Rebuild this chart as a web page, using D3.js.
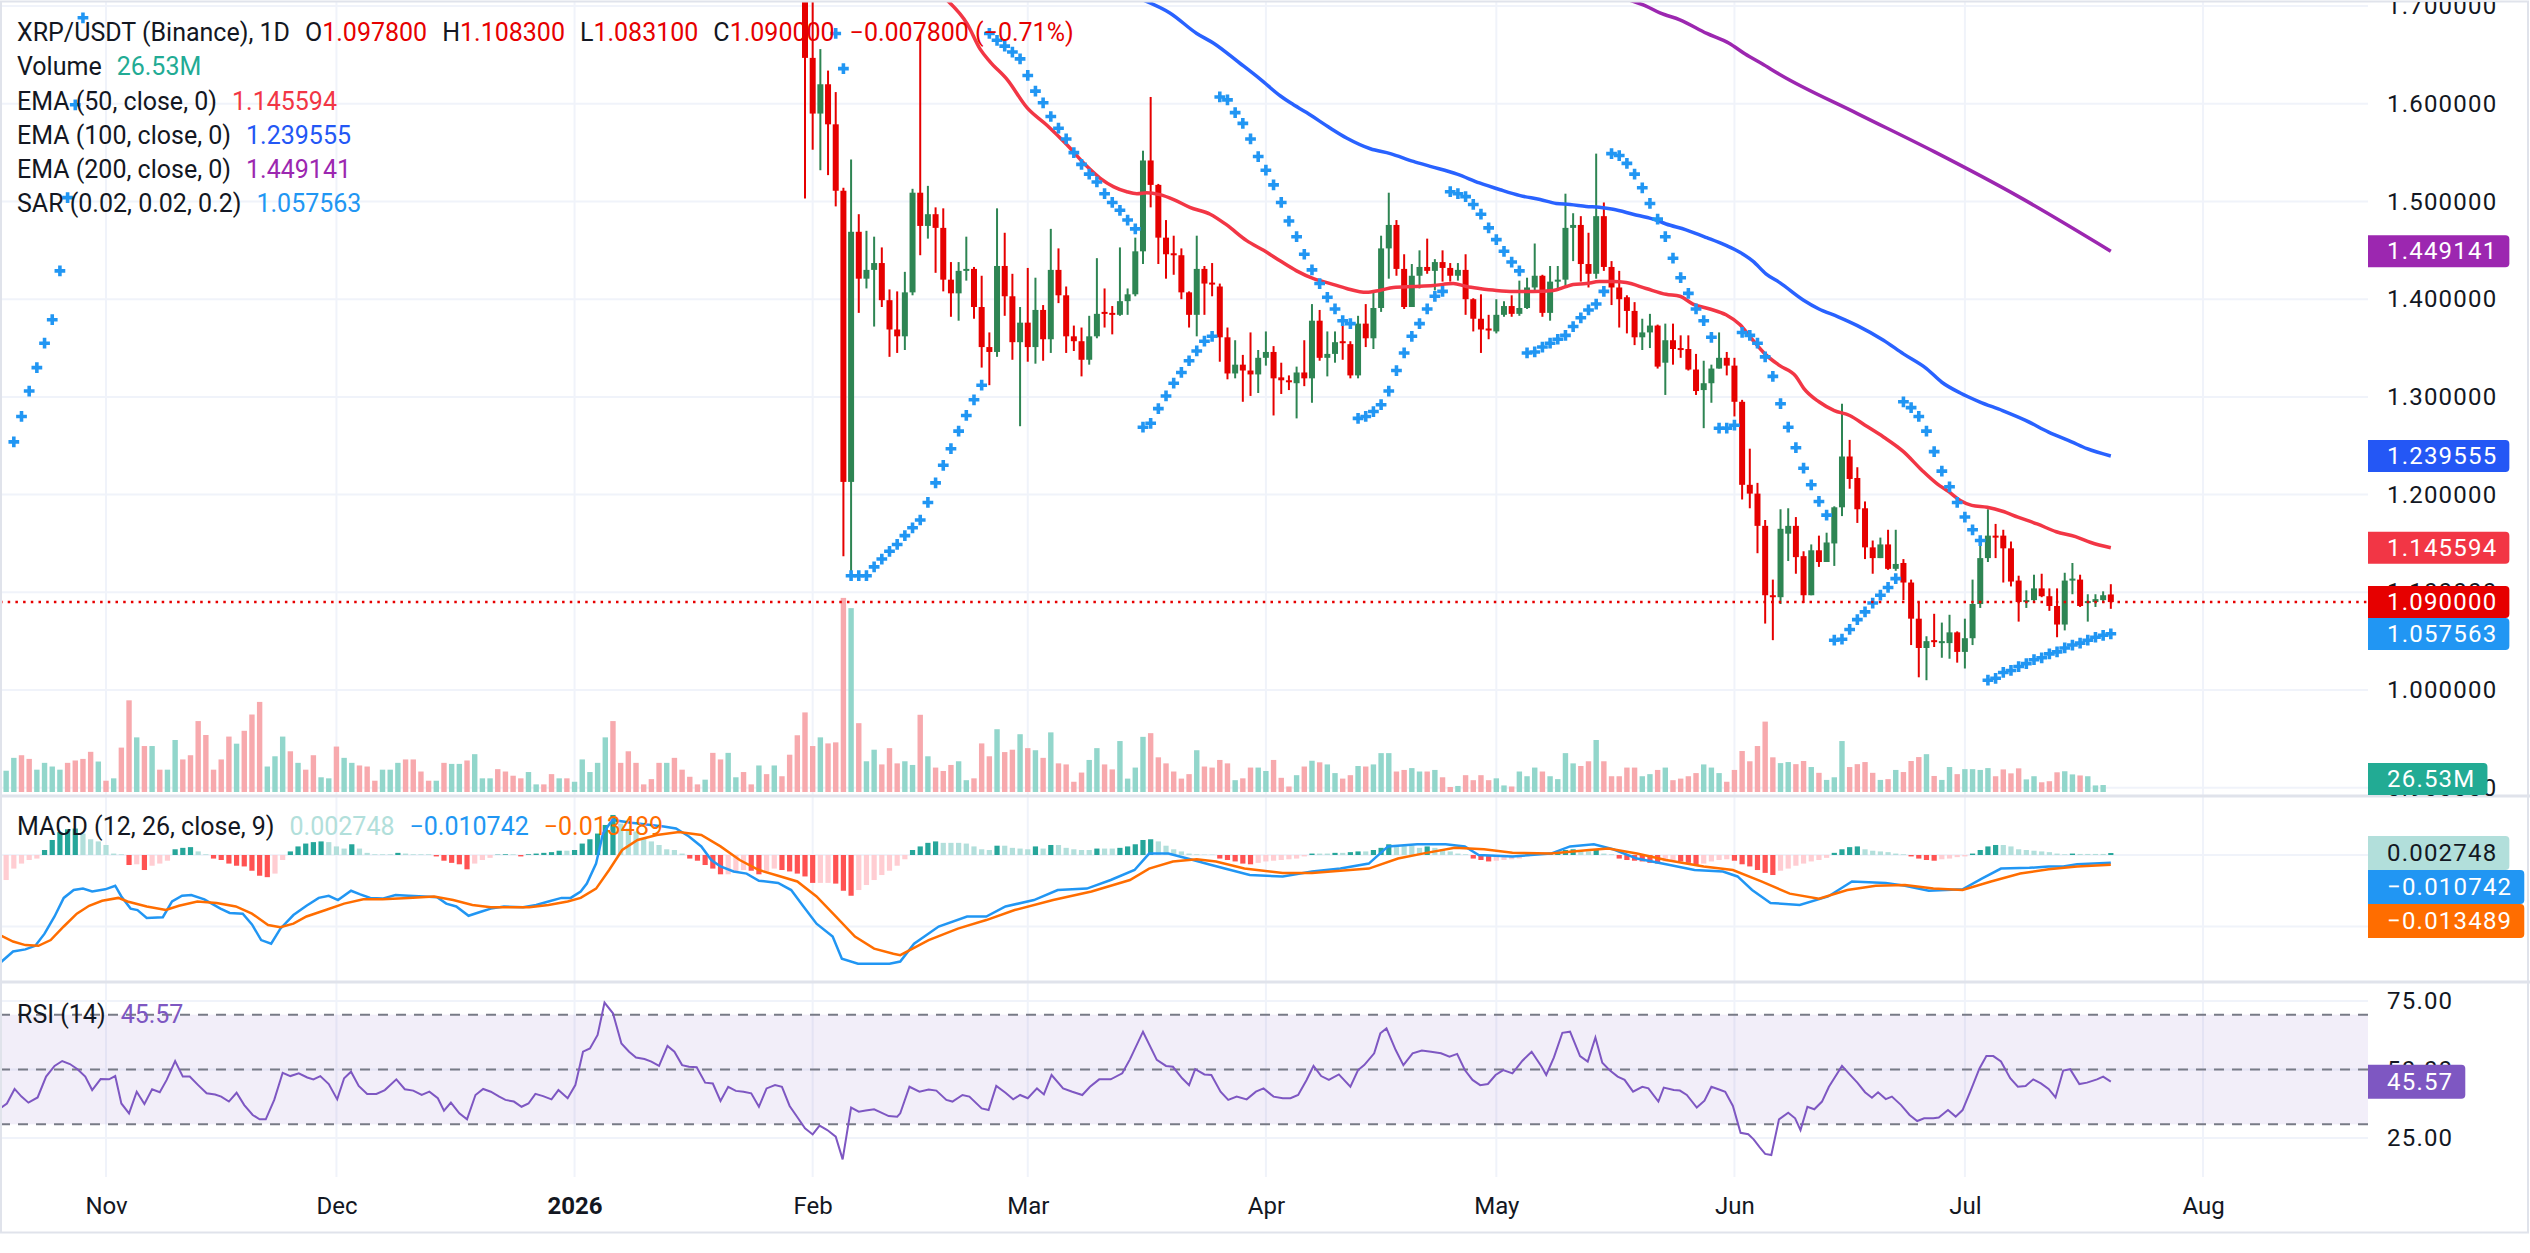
<!DOCTYPE html>
<html>
<head>
<meta charset="utf-8">
<script src="https://cdn.jsdelivr.net/npm/d3@7"></script>
<style>
  body { margin: 0; background: #fff; }
  svg { display: block; font-family: Roboto, "Liberation Sans", sans-serif; }
</style>
</head>
<body>
<div id="chart"></div>
<script>
// ---------- data (day offsets are days since 2025-11-01, UTC) ----------

const tickDates = ["2025-11-01","2025-12-01","2026-01-01","2026-02-01","2026-03-01","2026-04-01","2026-05-01","2026-06-01","2026-07-01","2026-08-01"];
const tickLabels = ["Nov","Dec","2026","Feb","Mar","Apr","May","Jun","Jul","Aug"];

const priceTicks = [0.9, 1.0, 1.1, 1.2, 1.3, 1.4, 1.5, 1.6, 1.7];
const macdTicks = [0, -0.1];
const rsiTicks = [25, 50, 75];
const rsiLevels = [70, 50, 30];

// daily candles from 2026-01-31 (day 91): [open, high, low, close]
const candleStartDay = 91;
const candles = [
  [1.760,1.790,1.503,1.647],
  // Feb
  [1.647,1.712,1.553,1.590],[1.590,1.656,1.532,1.620],[1.620,1.634,1.527,1.579],[1.579,1.612,1.495,1.511],
  [1.511,1.514,1.137,1.213],[1.213,1.543,1.115,1.469],[1.469,1.487,1.386,1.421],[1.421,1.470,1.411,1.430],
  [1.430,1.464,1.372,1.437],[1.437,1.453,1.392,1.399],[1.399,1.410,1.341,1.369],[1.369,1.408,1.345,1.362],
  [1.362,1.428,1.348,1.407],[1.407,1.513,1.404,1.509],[1.509,1.672,1.445,1.475],[1.475,1.516,1.462,1.487],
  [1.487,1.494,1.427,1.473],[1.473,1.493,1.408,1.420],[1.420,1.438,1.382,1.406],[1.406,1.438,1.378,1.429],
  [1.429,1.464,1.419,1.431],[1.431,1.433,1.380,1.392],[1.392,1.424,1.330,1.351],[1.351,1.366,1.312,1.346],
  [1.346,1.493,1.341,1.434],[1.434,1.468,1.383,1.403],[1.403,1.426,1.338,1.356],[1.356,1.392,1.270,1.376],
  // Mar
  [1.376,1.432,1.336,1.351],[1.351,1.422,1.334,1.389],[1.389,1.394,1.337,1.359],[1.359,1.472,1.345,1.430],
  [1.430,1.452,1.396,1.404],[1.404,1.413,1.345,1.362],[1.362,1.373,1.347,1.357],[1.357,1.371,1.321,1.338],
  [1.338,1.383,1.333,1.362],[1.362,1.442,1.360,1.385],[1.387,1.411,1.371,1.385],[1.386,1.393,1.364,1.384],
  [1.384,1.453,1.383,1.398],[1.398,1.411,1.384,1.405],[1.405,1.463,1.403,1.449],[1.449,1.552,1.436,1.542],
  [1.542,1.607,1.494,1.517],[1.517,1.518,1.436,1.463],[1.463,1.481,1.421,1.446],[1.447,1.465,1.425,1.446],
  [1.445,1.452,1.400,1.407],[1.407,1.408,1.371,1.384],[1.384,1.465,1.362,1.431],[1.431,1.434,1.384,1.416],
  [1.417,1.437,1.403,1.415],[1.413,1.416,1.336,1.361],[1.361,1.371,1.318,1.324],[1.324,1.358,1.319,1.333],
  [1.333,1.343,1.295,1.327],[1.327,1.366,1.301,1.323],[1.323,1.348,1.304,1.340],
  // Apr
  [1.340,1.367,1.332,1.346],[1.346,1.352,1.281,1.319],[1.320,1.335,1.303,1.317],[1.317,1.322,1.307,1.316],
  [1.314,1.331,1.278,1.325],[1.325,1.358,1.311,1.319],[1.319,1.395,1.294,1.378],[1.378,1.389,1.337,1.340],
  [1.340,1.367,1.321,1.344],[1.344,1.367,1.335,1.356],[1.357,1.375,1.338,1.356],[1.354,1.357,1.319,1.322],
  [1.322,1.383,1.319,1.375],[1.375,1.395,1.351,1.360],[1.360,1.407,1.349,1.391],[1.391,1.465,1.387,1.452],
  [1.452,1.509,1.421,1.476],[1.476,1.481,1.424,1.431],[1.431,1.446,1.390,1.392],[1.392,1.436,1.392,1.424],
  [1.424,1.450,1.411,1.433],[1.433,1.462,1.426,1.429],[1.429,1.441,1.409,1.438],[1.438,1.450,1.418,1.432],
  [1.432,1.437,1.418,1.424],[1.424,1.437,1.419,1.430],[1.430,1.446,1.384,1.400],[1.400,1.401,1.367,1.380],
  [1.380,1.405,1.345,1.369],[1.370,1.384,1.359,1.368],
  // May
  [1.367,1.400,1.365,1.384],[1.384,1.398,1.382,1.393],[1.393,1.404,1.382,1.385],[1.385,1.419,1.383,1.391],
  [1.391,1.422,1.390,1.412],[1.412,1.457,1.407,1.424],[1.424,1.425,1.382,1.386],[1.386,1.434,1.378,1.418],
  [1.418,1.434,1.410,1.420],[1.420,1.508,1.412,1.473],[1.473,1.488,1.439,1.476],[1.476,1.485,1.418,1.436],
  [1.436,1.468,1.412,1.426],[1.426,1.549,1.421,1.485],[1.485,1.499,1.429,1.433],[1.433,1.439,1.394,1.412],
  [1.412,1.429,1.371,1.400],[1.402,1.404,1.365,1.388],[1.388,1.397,1.353,1.361],[1.361,1.380,1.348,1.366],
  [1.366,1.385,1.350,1.373],[1.373,1.374,1.329,1.331],[1.335,1.375,1.302,1.358],[1.358,1.375,1.333,1.349],
  [1.350,1.363,1.340,1.349],[1.349,1.363,1.327,1.328],[1.328,1.344,1.302,1.306],[1.307,1.337,1.268,1.314],
  [1.314,1.333,1.294,1.329],[1.329,1.366,1.329,1.340],[1.340,1.346,1.322,1.332],
  // Jun
  [1.332,1.340,1.280,1.295],[1.295,1.297,1.195,1.210],[1.210,1.247,1.186,1.201],[1.201,1.212,1.140,1.168],
  [1.168,1.174,1.068,1.097],[1.097,1.113,1.051,1.095],[1.095,1.185,1.088,1.165],[1.160,1.186,1.132,1.168],
  [1.168,1.177,1.119,1.136],[1.137,1.142,1.089,1.097],[1.097,1.149,1.097,1.143],[1.143,1.158,1.126,1.131],
  [1.131,1.161,1.131,1.151],[1.150,1.188,1.127,1.187],[1.187,1.293,1.178,1.239],[1.239,1.256,1.206,1.216],
  [1.217,1.228,1.171,1.185],[1.186,1.193,1.134,1.146],[1.146,1.153,1.119,1.135],[1.135,1.156,1.135,1.149],
  [1.149,1.164,1.123,1.124],[1.124,1.164,1.122,1.129],[1.130,1.134,1.092,1.110],[1.110,1.113,1.046,1.073],
  [1.073,1.090,1.013,1.043],[1.043,1.055,1.010,1.050],[1.051,1.078,1.044,1.049],[1.048,1.069,1.033,1.050],
  [1.048,1.077,1.032,1.059],[1.059,1.060,1.028,1.039],
  // Jul
  [1.039,1.073,1.022,1.053],[1.053,1.113,1.046,1.088],[1.088,1.153,1.084,1.135],[1.135,1.185,1.131,1.158],
  [1.158,1.170,1.135,1.157],[1.158,1.164,1.110,1.145],[1.145,1.152,1.106,1.111],[1.112,1.117,1.070,1.090],
  [1.090,1.102,1.084,1.092],[1.092,1.118,1.090,1.104],[1.104,1.119,1.095,1.096],[1.096,1.104,1.081,1.086],
  [1.086,1.104,1.054,1.067],[1.067,1.120,1.061,1.112],[1.112,1.130,1.098,1.114],[1.113,1.118,1.085,1.086],
  [1.089,1.098,1.070,1.091],[1.090,1.098,1.085,1.093],[1.092,1.101,1.089,1.097],[1.0978,1.1083,1.0831,1.0900]
];

// daily volume (millions) from 2025-10-19 (day -13)
const volumeStartDay = -13;
const volumes = [
  81,130,140,126,85,111,97,85,111,120, 126,153,116,43,52,169,349,208,175,175,
  85,85,198,124,140,270,217,85,124,211, 184,233,295,343,97,136,211,155,111,85,
  140,56,52,173,130,111,101,97,43,85, 85,111,124,124,78,43,43,111,107,107,
  120,144,52,52,87,78,62,52,76,29, 29,68,52,52,39,124,76,111,208,270,
  111,155,111,29,49,111,111,130,85,58, 29,47,149,124,149,56,76,29,101,68,
  101, 60,142,216,
  303,175,208,185,189,739,700,262,117,161, 105,167,109,117,103,294,136,93,80,103,
  117,45,52,185,136,239,152,161,220,167, 159,130,227,109,105,39,74,122,167,105,
  86,194,51,93,210,224,132,109,78,51, 68,159,97,93,122,109,45,52,93,93,
  80,122,
  54,21,64,97,119,113,105,72,51,64, 99,97,105,148,148,78,84,91,78,78,
  84,56,19,23,64,45,64,45,52,25, 21,78,60,93,78,60,49,148,109,99,
  117,198,117,60,60,93,93,60,68,84, 93,45,51,60,72,105,93,72,39,84,
  156,117,175,268,132,
  110,114,106,118,95,73,46,56,194,95, 106,114,73,46,49,84,76,118,133,144,
  61,46,95,68,87,87,84,91,
  60,86,71,90,48,60,37,41,75,79,67,63,60,25,26.53
];
// up (1) / down (0) for volume bars before the first visible candle (days -13..90)
const volumeDirEarly =
  "1100111100" + "0010100101" + "0110000000" + "1000111010" + "0110110001" +
  "1100001011" + "0111000011" + "0010111110" + "0000001000" + "0100110010" + "1000";

// daily MACD histogram from day -13
const histStartDay = -13;
const macdHist = [
  -0.035,-0.019,-0.012,-0.007,-0.005,0.007,0.021,0.032,0.036,0.037,
  0.030,0.022,0.019,0.014,0.002,0.001,-0.014,-0.013,-0.021,-0.015,
  -0.012,-0.008,0.008,0.010,0.011,0.005,0.001,-0.005,-0.007,-0.012,
  -0.015,-0.016,-0.022,-0.029,-0.031,-0.026,-0.007,0.005,0.012,0.016,
  0.018,0.019,0.018,0.012,0.009,0.015,0.009,0.003,0.001,0.001,
  0.001,0.003,0.002,0.001,0.001,0.001,-0.002,-0.008,-0.011,-0.013,
  -0.020,-0.012,-0.007,-0.004,0.0005,0.001,0.001,-0.002,0.001,0.002,
  0.003,0.004,0.006,0.006,0.007,0.016,0.022,0.030,0.042,0.056,
  0.044,0.037,0.033,0.023,0.019,0.014,0.008,0.007,0.002,-0.005,
  -0.008,-0.014,-0.019,-0.027,-0.027,-0.025,-0.021,-0.022,-0.027,-0.023,
  -0.019,-0.021,-0.023,-0.026,-0.030,-0.039,-0.039,-0.039,-0.040,-0.050,
  -0.057,-0.049,-0.042,-0.035,-0.028,-0.022,-0.015,-0.006,0.007,0.012,
  0.017,0.019,0.017,0.017,0.017,0.016,0.012,0.008,0.007,0.013,
  0.013,0.010,0.009,0.008,0.012,0.009,0.014,0.014,0.010,0.008,
  0.007,0.007,0.009,0.009,0.009,0.010,0.012,0.015,0.021,0.022,
  0.019,0.013,0.008,0.005,0.002,0.001,0.0005,0.0005,-0.005,-0.007,
  -0.009,-0.012,-0.013,-0.011,-0.009,-0.008,-0.007,-0.006,-0.005,-0.002,
  0.002,0.002,0.002,0.003,0.003,0.004,0.005,0.005,0.007,0.010,
  0.015,0.014,0.014,0.013,0.010,0.012,0.010,0.008,0.005,0.002,
  0.001,-0.005,-0.007,-0.009,-0.008,-0.007,-0.006,-0.005,-0.002,0.002,
  0.002,0.003,0.005,0.007,0.008,0.007,0.005,0.007,0.002,0.001,
  -0.005,-0.007,-0.008,-0.009,-0.011,-0.012,-0.009,-0.008,-0.009,-0.011,
  -0.014,-0.012,-0.009,-0.007,-0.006,-0.008,-0.013,-0.016,-0.021,-0.025,
  -0.028,-0.022,-0.019,-0.015,-0.012,-0.009,-0.007,-0.004,0.003,0.008,
  0.011,0.012,0.008,0.006,0.005,0.004,0.002,0.001,-0.002,-0.005,
  -0.007,-0.008,-0.006,-0.005,-0.003,-0.002,0.002,0.007,0.012,0.014,
  0.014,0.012,0.008,0.007,0.006,0.005,0.004,0.002,0.001,0.002,
  0.0015,0.0015,0.0015,0.0015,0.002748
];

// MACD line and signal line: [day, value]
const macdLine = [
  [-13.8,-0.151],[-12.1,-0.135],[-10.5,-0.132],[-9.2,-0.127],[-8.0,-0.110],[-6.7,-0.086],[-5.5,-0.060],
  [-4.2,-0.049],[-3.0,-0.047],[-1.8,-0.051],[-0.1,-0.048],[1.2,-0.043],[2.0,-0.058],[3.2,-0.075],
  [4.1,-0.077],[5.3,-0.088],[7.4,-0.087],[8.6,-0.065],[9.9,-0.057],[11.1,-0.056],[12.8,-0.062],
  [14.9,-0.075],[16.1,-0.081],[17.8,-0.082],[19.0,-0.097],[20.2,-0.119],[21.5,-0.124],[22.7,-0.103],
  [24.4,-0.084],[26.1,-0.071],[27.7,-0.060],[29.0,-0.057],[30.2,-0.063],[31.9,-0.050],[33.1,-0.055],
  [34.4,-0.060],[36.0,-0.061],[37.7,-0.056],[39.4,-0.057],[41.4,-0.058],[43.1,-0.059],[44.3,-0.068],
  [45.6,-0.072],[47.2,-0.085],[48.9,-0.079],[50.1,-0.075],[51.8,-0.072],[54.3,-0.073],[56.0,-0.070],
  [57.6,-0.065],[59.3,-0.060],[60.5,-0.060],[61.8,-0.051],[62.6,-0.040],[63.8,-0.012],[64.7,0.030],
  [65.9,0.049],[68.4,0.045],[70.1,0.043],[72.6,0.040],[74.2,0.037],[75.9,0.026],[77.5,0.012],
  [78.8,-0.007],[80.0,-0.016],[81.7,-0.023],[83.4,-0.026],[85.0,-0.036],[87.5,-0.039],[89.2,-0.049],
  [90.8,-0.072],[92.5,-0.096],[94.6,-0.114],[95.8,-0.145],[97.9,-0.152],[100.0,-0.152],[102.0,-0.152],
  [103.4,-0.149],[105.2,-0.124],[108.4,-0.100],[112.1,-0.086],[114.6,-0.086],[117.1,-0.072],[120.8,-0.063],
  [123.9,-0.049],[127.7,-0.047],[130.8,-0.035],[133.9,-0.021],[135.8,0.002],[138.3,0.002],[140.8,-0.005],
  [143.9,-0.014],[146.4,-0.021],[148.9,-0.028],[153.2,-0.030],[157.0,-0.023],[160.7,-0.019],[164.4,-0.012],
  [166.9,0.012],[170.7,0.015],[174.4,0.015],[176.9,0.012],[178.7,0.000],[183.1,-0.002],[188.1,0.002],
  [190.6,0.012],[193.7,0.015],[196.2,0.008],[199.3,-0.005],[203.1,-0.013],[206.8,-0.021],[210.5,-0.023],
  [212.4,-0.030],[214.3,-0.049],[216.7,-0.067],[220.5,-0.070],[224.2,-0.058],[227.3,-0.037],[231.7,-0.039],
  [234.2,-0.043],[237.3,-0.050],[241.7,-0.048],[244.2,-0.033],[246.7,-0.019],[250.4,-0.018],[252.9,-0.016],
  [254.8,-0.016],[256.6,-0.013],[261,-0.010742]
];
const signalLine = [
  [-13.8,-0.112],[-12.1,-0.121],[-10.5,-0.126],[-8.8,-0.127],[-7.2,-0.119],[-5.5,-0.100],[-3.8,-0.082],
  [-2.2,-0.071],[-0.5,-0.064],[1.6,-0.060],[2.8,-0.065],[5.3,-0.072],[7.8,-0.077],[9.5,-0.071],
  [11.9,-0.065],[14.4,-0.067],[16.9,-0.072],[19.0,-0.082],[21.1,-0.098],[22.7,-0.101],[24.4,-0.096],
  [26.1,-0.086],[28.6,-0.077],[31.0,-0.068],[33.5,-0.062],[36.0,-0.062],[39.4,-0.060],[42.7,-0.058],
  [45.2,-0.063],[47.7,-0.070],[50.1,-0.073],[52.6,-0.073],[55.1,-0.073],[57.6,-0.070],[60.1,-0.065],
  [61.8,-0.060],[63.8,-0.047],[65.5,-0.021],[67.2,0.007],[69.2,0.021],[71.7,0.028],[74.6,0.032],
  [77.5,0.028],[80.0,0.012],[82.5,-0.007],[85.0,-0.021],[87.5,-0.029],[90.0,-0.037],[92.5,-0.058],
  [95.0,-0.086],[97.5,-0.114],[100.0,-0.131],[102.5,-0.138],[103.4,-0.140],[107.1,-0.119],[110.9,-0.103],
  [114.6,-0.091],[118.3,-0.077],[123.3,-0.063],[128.3,-0.051],[133.3,-0.035],[135.8,-0.019],[138.9,-0.009],
  [142.0,-0.006],[144.5,-0.009],[148.2,-0.019],[153.2,-0.025],[157.0,-0.025],[160.7,-0.022],[164.4,-0.019],
  [168.2,-0.005],[171.9,0.003],[175.6,0.010],[179.4,0.008],[183.1,0.003],[188.1,0.002],[193.1,0.007],
  [195.6,0.009],[199.3,0.002],[203.1,-0.007],[208.0,-0.016],[211.8,-0.021],[215.5,-0.037],[219.2,-0.054],
  [223.0,-0.061],[226.7,-0.049],[230.4,-0.043],[234.2,-0.042],[237.9,-0.047],[241.7,-0.049],[245.4,-0.037],
  [249.2,-0.026],[252.9,-0.020],[256.6,-0.016],[261,-0.013489]
];

// RSI(14): [day, value]
const rsiLine = [
  [-13.8,35.8],[-12.9,37.6],[-11.9,42.9],[-11.0,40.1],[-10.1,37.9],[-8.9,39.8],[-7.8,47.4],[-6.7,51.3],
  [-5.7,53.1],[-4.7,52.0],[-3.7,50.1],[-2.7,47.4],[-1.8,42.5],[-0.7,46.5],[0.4,46.4],[1.2,47.6],
  [2.0,37.6],[3.0,34.0],[4.0,41.9],[5.0,37.4],[6.0,42.8],[7.0,41.7],[7.9,46.2],[9.0,53.1],
  [10.0,47.4],[10.9,47.4],[12.0,44.3],[13.1,41.3],[14.2,40.9],[15.0,40.1],[16.0,38.3],[17.0,41.5],
  [18.0,37.0],[19.1,33.4],[20.0,31.8],[20.8,31.8],[21.9,38.9],[23.0,48.8],[24.0,47.6],[25.1,48.6],
  [26.2,47.1],[27.0,46.4],[27.9,47.6],[29.0,44.7],[30.1,39.1],[31.0,46.8],[31.9,49.2],[32.9,44.0],
  [34.0,41.1],[35.2,41.1],[36.3,42.5],[37.8,46.4],[38.9,42.8],[40.0,42.3],[41.1,40.7],[42.1,41.9],
  [43.2,39.5],[44.0,35.0],[44.9,37.9],[46.0,34.0],[47.0,31.8],[48.1,40.7],[49.1,42.9],[50.1,41.9],
  [51.2,40.1],[52.0,38.9],[53.1,38.3],[54.1,36.4],[55.0,37.6],[55.9,41.1],[56.9,40.3],[58.0,39.1],
  [58.9,42.5],[60.1,39.5],[61.1,44.3],[62.1,56.5],[63.0,57.7],[64.0,62.6],[64.9,74.4],[66.0,70.5],
  [67.1,59.5],[68.1,56.5],[69.0,54.4],[70.1,53.8],[71.0,52.9],[72.0,51.3],[73.1,58.6],[74.0,56.5],
  [75.0,51.6],[75.9,51.0],[76.9,50.8],[78.0,45.2],[79.0,44.9],[80.0,38.5],[81.0,43.7],[82.0,42.2],
  [83.0,41.9],[84.0,41.3],[85.0,36.4],[86.0,43.1],[87.1,44.3],[88.0,43.7],[89.0,36.7],[90.1,32.2],
  [91.0,28.5],[92.0,26.3],[92.9,29.5],[93.9,27.9],[95.0,25.5],[95.9,17.2],[97.0,36.1],[98.0,34.6],
  [98.9,35.0],[100.0,35.5],[101.0,34.2],[101.9,33.0],[103.0,32.8],[103.4,34.0],[104.6,43.7],[105.9,41.9],
  [107.1,42.7],[108.1,42.3],[109.4,38.9],[110.2,38.3],[111.5,40.7],[112.4,40.1],[114.0,35.8],[114.9,35.2],
  [115.9,44.0],[117.1,41.5],[118.1,39.1],[119.0,40.7],[120.0,39.5],[121.2,43.1],[122.1,40.9],[123.1,48.0],
  [124.6,43.1],[125.8,41.9],[127.1,40.7],[128.1,43.7],[129.3,46.4],[130.8,46.4],[132.3,48.6],[133.3,53.7],
  [135.0,63.8],[136.8,53.5],[138.0,51.3],[138.9,51.0],[140.1,46.8],[141.0,44.3],[141.8,50.1],[143.0,48.2],
  [143.9,48.0],[145.1,41.9],[146.1,38.9],[147.2,40.1],[148.5,39.1],[149.7,41.9],[150.7,43.1],[152.0,40.1],
  [153.2,39.5],[154.2,39.5],[155.2,40.7],[156.3,46.2],[157.2,51.3],[158.2,47.6],[159.2,46.2],[160.5,48.2],
  [162.0,43.7],[163.0,49.8],[163.8,51.6],[165.1,55.9],[165.9,63.2],[166.7,65.0],[167.9,57.1],[168.9,51.6],
  [170.1,55.9],[171.3,56.9],[172.5,56.5],[173.8,55.9],[174.9,54.7],[175.9,55.7],[176.9,49.8],[177.9,46.2],
  [178.9,44.3],[179.9,44.7],[180.9,48.0],[181.9,49.8],[183.1,48.6],[184.4,53.2],[185.6,56.5],[186.9,51.0],
  [187.5,48.0],[188.5,54.4],[189.6,63.4],[190.6,63.8],[191.9,54.9],[192.9,52.9],[193.9,61.7],[194.8,52.5],
  [195.8,49.6],[196.8,47.4],[197.7,46.2],[198.8,41.9],[200.0,43.7],[200.8,43.1],[202.1,38.3],[202.8,43.4],
  [204.1,42.5],[204.9,42.3],[205.8,40.7],[207.1,36.1],[208.1,38.6],[209.0,43.7],[210.0,42.7],[210.8,41.9],
  [211.8,36.7],[212.8,26.9],[213.8,26.4],[214.5,24.5],[215.3,21.6],[216.0,19.2],[216.8,18.8],[217.8,31.8],
  [219.0,34.2],[219.9,32.2],[220.6,27.9],[221.5,36.4],[222.4,35.5],[223.4,38.3],[224.3,43.7],[225.3,48.2],
  [226.0,51.3],[227.0,48.2],[228.0,45.2],[229.0,41.7],[229.9,39.7],[230.7,41.7],[231.7,39.2],[232.5,40.1],
  [233.7,37.0],[234.8,33.4],[235.8,31.2],[236.7,32.2],[237.9,32.2],[238.6,32.5],[239.8,35.2],[240.8,32.8],
  [241.7,35.2],[242.7,41.9],[243.9,50.4],[244.8,54.9],[245.7,54.9],[246.7,52.9],[247.9,46.8],[248.9,43.7],
  [249.9,44.0],[250.9,46.4],[251.9,44.9],[252.9,42.9],[253.8,39.8],[254.8,49.6],[255.7,50.1],[256.9,44.7],
  [257.9,45.2],[259.2,46.4],[260.0,47.4],[261.0,45.57]
];

// moving averages: [day, price]
const ema50 = [
  [109.5,1.706],[112.1,1.682],[113.8,1.656],[115.1,1.643],[117.3,1.625],[119.9,1.596],[122.5,1.578],
  [125.1,1.558],[127.7,1.536],[129.4,1.524],[131.2,1.515],[132.9,1.510],[134.2,1.508],[135.5,1.509],
  [137.2,1.507],[139.0,1.502],[141.1,1.494],[143.75,1.487],[145.9,1.476],[148.5,1.460],[150.7,1.450],
  [152.9,1.439],[155.0,1.429],[157.2,1.421],[159.4,1.416],[161.5,1.411],[164.1,1.407],[165.8,1.409],
  [167.6,1.412],[170.2,1.413],[172.8,1.414],[175.4,1.416],[177.1,1.413],[178.8,1.411],[181.0,1.409],
  [183.2,1.408],[185.8,1.408],[188.4,1.409],[190.1,1.413],[191.0,1.415],[192.7,1.416],[194.4,1.418],
  [196.2,1.418],[197.9,1.417],[200.5,1.411],[203.1,1.405],[204.9,1.403],[206.6,1.395],[208.8,1.390],
  [210.9,1.384],[212.7,1.374],[214.4,1.358],[216.1,1.343],[217.9,1.332],[220.0,1.321],[221.0,1.309],
  [223.0,1.295],[225.0,1.286],[227.0,1.281],[229.0,1.271],[231.4,1.259],[234.0,1.244],[236.4,1.225],
  [238.4,1.211],[239.9,1.203],[241.4,1.194],[242.9,1.189],[244.9,1.187],[246.9,1.183],[248.9,1.177],
  [251.4,1.170],[253.9,1.162],[256.4,1.157],[258.4,1.151],[261,1.145594]
];
const ema100 = [
  [135.1,1.706],[138.5,1.693],[142.0,1.672],[144.2,1.662],[147.7,1.641],[150.3,1.625],[152.9,1.608],
  [154.2,1.601],[156.3,1.591],[159.4,1.575],[161.5,1.565],[164.6,1.554],[167.2,1.549],[170.2,1.541],
  [172.4,1.536],[175.9,1.528],[178.8,1.519],[181.5,1.512],[184.1,1.506],[186.7,1.502],[188.8,1.498],
  [190.6,1.497],[192.7,1.495],[194.4,1.494],[196.2,1.492],[198.8,1.487],[201.4,1.482],[203.1,1.477],
  [205.7,1.471],[208.4,1.463],[210.9,1.455],[212.7,1.448],[214.4,1.439],[216.1,1.426],[217.9,1.417],
  [221.0,1.399],[223.0,1.390],[225.5,1.382],[228.0,1.373],[231.4,1.358],[234.0,1.344],[237.0,1.329],
  [239.0,1.315],[241.4,1.304],[243.9,1.295],[246.9,1.286],[249.9,1.276],[252.9,1.264],[255.9,1.254],
  [257.9,1.247],[261,1.239555]
];
const ema200 = [
  [198.4,1.706],[200.5,1.700],[202.3,1.693],[204.9,1.686],[208.4,1.672],[211.3,1.662],[213.4,1.651],
  [215.6,1.641],[217.9,1.630],[228,1.590],[238,1.551],[249,1.505],[261,1.449141]
];

// parabolic SAR dots: [day, price]
const sar = [
  [-12,1.254],[-11,1.280],[-10,1.306],[-9,1.330],[-8,1.355],[-7,1.379],[-6,1.429],[-5,1.504],[-4,1.599],[-3,1.688],
  [95,1.672],[96,1.636],
  [97,1.117],[98,1.117],[99,1.117],[100,1.126],[101,1.134],[102,1.142],[103,1.149],[104,1.158],[105,1.166],
  [106,1.174],[107,1.192],[108,1.212],[109,1.230],[110,1.247],[111,1.265],[112,1.281],[113,1.297],[114,1.312],
  [115,1.672],[116,1.665],[117,1.659],[118,1.653],[119,1.646],[120,1.629],[121,1.613],[122,1.601],[123,1.587],
  [124,1.575],[125,1.564],[126,1.550],[127,1.538],[128,1.528],[129,1.520],[130,1.508],[131,1.499],[132,1.491],
  [133,1.481],[134,1.472],
  [135,1.269],[136,1.273],[137,1.288],[138,1.301],[139,1.314],[140,1.325],[141,1.337],[142,1.347],[143,1.357],[144,1.362],
  [145,1.607],[146,1.604],[147,1.591],[148,1.580],[149,1.564],[150,1.546],[151,1.532],[152,1.517],[153,1.499],
  [154,1.480],[155,1.464],[156,1.446],[157,1.430],[158,1.416],[159,1.402],[160,1.390],[161,1.378],[162,1.375],
  [163,1.278],[164,1.280],[165,1.285],[166,1.292],[167,1.306],[168,1.327],[169,1.345],[170,1.362],[171,1.375],
  [172,1.390],[173,1.403],[174,1.408],
  [175,1.510],[176,1.508],[177,1.505],[178,1.497],[179,1.487],[180,1.473],[181,1.461],[182,1.449],[183,1.438],[184,1.429],
  [185,1.345],[186,1.346],[187,1.351],[188,1.355],[189,1.359],[190,1.363],[191,1.372],[192,1.381],[193,1.389],
  [194,1.395],[195,1.408],
  [196,1.549],[197,1.547],[198,1.539],[199,1.528],[200,1.514],[201,1.498],[202,1.482],[203,1.464],[204,1.442],
  [205,1.422],[206,1.406],[207,1.390],[208,1.378],[209,1.361],
  [210,1.268],[211,1.268],[212,1.271],
  [213,1.366],[214,1.363],[215,1.355],[216,1.341],[217,1.321],[218,1.293],[219,1.269],[220,1.248],[221,1.227],
  [222,1.210],[223,1.193],[224,1.179],
  [225,1.051],[226,1.052],[227,1.062],[228,1.072],[229,1.080],[230,1.089],[231,1.097],[232,1.105],[233,1.114],
  [234,1.295],[235,1.289],[236,1.280],[237,1.265],[238,1.244],[239,1.224],[240,1.208],[241,1.192],[242,1.177],
  [243,1.164],[244,1.153],
  [245,1.010],[246,1.012],[247,1.018],[248,1.020],[249,1.024],[250,1.027],[251,1.031],[252,1.033],[253,1.037],
  [254,1.039],[255,1.043],[256,1.046],[257,1.048],[258,1.051],[259,1.054],[260,1.056],[261,1.057563]
];

const lastPrice = 1.09;
const lastVolume = 26.53;

// ---------- layout ----------
const W = 2530, H = 1253;
const plotRight = 2368;
const paneMain = [2, 795], paneMacd = [797, 981], paneRsi = [983, 1177];
const axisTextX = 2387;
const C = {
  up: "#2e8553", down: "#e60000",
  volUp: "#92d6cb", volDown: "#f7a9ad",
  grid: "#f0f3fa", border: "#e0e3eb", text: "#131722",
  ema50: "#f23645", ema100: "#2962ff", ema200: "#9c27b0", sar: "#2196f3",
  macd: "#2196f3", signal: "#ff6d00",
  hUp: "#26a69a", hUpFade: "#b2dfdb", hDown: "#ff5252", hDownFade: "#ffcdd2",
  rsi: "#7e57c2", vol: "#22ab94"
};

const DAY = 864e5;
const t0 = Date.UTC(2025, 10, 1);
const dayDate = d => new Date(t0 + d * DAY);

const x = d3.scaleUtc().domain([dayDate(0), dayDate(273)]).range([106, 2203]);
const xd = d => x(dayDate(d));
const yPrice = d3.scaleLinear().domain([1.0, 1.7]).range([690, 6.1]);
const yVol = d3.scaleLinear().domain([0, 750]).range([792, 595]);
const yMacd = d3.scaleLinear().domain([0, -0.1]).range([855, 926.5]);
const yRsi = d3.scaleLinear().domain([25, 75]).range([1138, 1001]);

const svg = d3.select("#chart").append("svg").attr("width", W).attr("height", H);
svg.append("rect").attr("width", W).attr("height", H).attr("fill", "#fff");

const defs = svg.append("defs");
function clip(id, pane) {
  defs.append("clipPath").attr("id", id).append("rect")
    .attr("x", 0).attr("y", pane[0]).attr("width", plotRight).attr("height", pane[1] - pane[0]);
  return svg.append("g").attr("clip-path", `url(#${id})`);
}

// ---------- grid ----------
const grid = svg.append("g").attr("stroke", C.grid).attr("stroke-width", 2);
const tickDateObjs = tickDates.map(s => new Date(s + "T00:00:00Z"));
grid.selectAll(".vg").data(tickDateObjs).join("line")
  .attr("x1", d => x(d)).attr("x2", d => x(d)).attr("y1", paneMain[0]).attr("y2", paneRsi[1]);
grid.selectAll(".hp").data(priceTicks).join("line")
  .attr("x1", 0).attr("x2", plotRight).attr("y1", d => yPrice(d)).attr("y2", d => yPrice(d));
grid.selectAll(".hm").data(macdTicks).join("line")
  .attr("x1", 0).attr("x2", plotRight).attr("y1", d => yMacd(d)).attr("y2", d => yMacd(d));
grid.selectAll(".hr").data(rsiTicks).join("line")
  .attr("x1", 0).attr("x2", plotRight).attr("y1", d => yRsi(d)).attr("y2", d => yRsi(d));

// ---------- main pane ----------
const main = clip("clipMain", paneMain);

const candleData = candles.map((c, i) => ({ day: candleStartDay + i, o: c[0], h: c[1], l: c[2], c: c[3] }));
const candleByDay = new Map(candleData.map(d => [d.day, d]));

const volData = volumes.map((v, i) => {
  const day = volumeStartDay + i;
  const cd = candleByDay.get(day);
  const up = cd ? cd.c >= cd.o : volumeDirEarly[day - volumeStartDay] === "1";
  return { day, v, up };
});
main.append("g").selectAll("rect").data(volData).join("rect")
  .attr("x", d => xd(d.day) - 2.7).attr("width", 5.4)
  .attr("y", d => yVol(d.v)).attr("height", d => yVol(0) - yVol(d.v))
  .attr("fill", d => d.up ? C.volUp : C.volDown);

const cg = main.append("g");
cg.selectAll("line").data(candleData).join("line")
  .attr("x1", d => xd(d.day)).attr("x2", d => xd(d.day))
  .attr("y1", d => yPrice(d.h)).attr("y2", d => yPrice(d.l))
  .attr("stroke", d => d.c >= d.o ? C.up : C.down).attr("stroke-width", 2);
cg.selectAll("rect").data(candleData).join("rect")
  .attr("x", d => xd(d.day) - 3).attr("width", 6)
  .attr("y", d => yPrice(Math.max(d.o, d.c)))
  .attr("height", d => Math.max(2, Math.abs(yPrice(d.o) - yPrice(d.c))))
  .attr("fill", d => d.c >= d.o ? C.up : C.down);

const priceLine = d3.line().x(d => xd(d[0])).y(d => yPrice(d[1])).curve(d3.curveMonotoneX);
[[ema50, C.ema50], [ema100, C.ema100], [ema200, C.ema200]].forEach(([data, col]) => {
  main.append("path").datum(data).attr("d", priceLine)
    .attr("fill", "none").attr("stroke", col).attr("stroke-width", 3.5).attr("stroke-linejoin", "round");
});

const cross = d3.symbol(d3.symbolCross, 64);
main.append("g").selectAll("path").data(sar).join("path")
  .attr("d", cross).attr("fill", C.sar)
  .attr("transform", d => `translate(${xd(d[0])},${yPrice(d[1])})`);

main.append("line")
  .attr("x1", 0).attr("x2", plotRight).attr("y1", yPrice(lastPrice)).attr("y2", yPrice(lastPrice))
  .attr("stroke", C.down).attr("stroke-width", 2.5).attr("stroke-dasharray", "2.5,5.2");

// ---------- MACD pane ----------
const macdG = clip("clipMacd", paneMacd);
const histData = macdHist.map((v, i) => {
  const prev = i > 0 ? macdHist[i - 1] : v;
  let col;
  if (v >= 0) col = v > prev ? C.hUp : C.hUpFade;
  else col = v < prev ? C.hDown : C.hDownFade;
  return { day: histStartDay + i, v, col };
});
macdG.append("g").selectAll("rect").data(histData).join("rect")
  .attr("x", d => xd(d.day) - 2.6).attr("width", 5.2)
  .attr("y", d => Math.min(yMacd(d.v), yMacd(0)))
  .attr("height", d => Math.abs(yMacd(d.v) - yMacd(0)))
  .attr("fill", d => d.col);
const macdPath = d3.line().x(d => xd(d[0])).y(d => yMacd(d[1]));
macdG.append("path").datum(macdLine).attr("d", macdPath)
  .attr("fill", "none").attr("stroke", C.macd).attr("stroke-width", 2.5);
macdG.append("path").datum(signalLine).attr("d", macdPath)
  .attr("fill", "none").attr("stroke", C.signal).attr("stroke-width", 2.5);

// ---------- RSI pane ----------
const rsiG = clip("clipRsi", paneRsi);
rsiG.append("rect").attr("x", 0).attr("width", plotRight)
  .attr("y", yRsi(70)).attr("height", yRsi(30) - yRsi(70))
  .attr("fill", C.rsi).attr("fill-opacity", 0.1);
rsiG.selectAll(".lvl").data(rsiLevels).join("line")
  .attr("x1", 0).attr("x2", plotRight).attr("y1", d => yRsi(d)).attr("y2", d => yRsi(d))
  .attr("stroke", "#787b86").attr("stroke-width", 2).attr("stroke-dasharray", "10,8");
rsiG.append("path").datum(rsiLine)
  .attr("d", d3.line().x(d => xd(d[0])).y(d => yRsi(d[1])))
  .attr("fill", "none").attr("stroke", C.rsi).attr("stroke-width", 2);

// ---------- separators / frame ----------
const sep = svg.append("g").attr("stroke", C.border);
[paneMain[1] + 1, paneMacd[1] + 1].forEach(y =>
  sep.append("line").attr("x1", 0).attr("x2", W).attr("y1", y).attr("y2", y).attr("stroke-width", 3));
svg.append("rect").attr("x", 1).attr("y", 1.5).attr("width", 2527).attr("height", 1231)
  .attr("fill", "none").attr("stroke", C.border).attr("stroke-width", 2);

// ---------- axes ----------
const axisFont = g => g.attr("font-family", "Roboto, 'Liberation Sans', sans-serif")
  .attr("font-size", 24).call(s => s.select(".domain").remove())
  .selectAll("text").attr("fill", C.text).attr("letter-spacing", 1.2);

defs.append("clipPath").attr("id", "clipAxis").append("rect")
  .attr("x", plotRight).attr("y", 2).attr("width", W - plotRight).attr("height", paneRsi[1]);
const axisG = svg.append("g").attr("clip-path", "url(#clipAxis)");

axisG.append("g").attr("transform", `translate(${plotRight},0)`)
  .call(d3.axisRight(yPrice).tickValues(priceTicks).tickFormat(d3.format(".6f")).tickSize(0).tickPadding(axisTextX - plotRight))
  .call(axisFont);
axisG.append("g").attr("transform", `translate(${plotRight},0)`)
  .call(d3.axisRight(yRsi).tickValues(rsiTicks).tickFormat(d3.format(".2f")).tickSize(0).tickPadding(axisTextX - plotRight))
  .call(axisFont);

const timeAxis = svg.append("g").attr("transform", `translate(0,${paneRsi[1]})`)
  .call(d3.axisBottom(x).tickValues(tickDateObjs).tickFormat((d, i) => tickLabels[i]).tickSize(0).tickPadding(20));
timeAxis.call(axisFont);
timeAxis.selectAll("text").attr("letter-spacing", 0)
  .attr("font-weight", (d, i) => tickLabels[i] === "2026" ? "bold" : "normal");

// value badges on the right scale
function badges(items, h, bottom) {
  items.sort((a, b) => a.y - b.y);
  let prev = -Infinity;
  items.forEach(it => {
    let c = Math.max(it.y, prev + h);
    c = Math.min(c, bottom - h / 2);
    it.c = c; prev = c;
  });
  items.forEach(it => {
    const g = svg.append("g");
    const t = g.append("text").attr("x", axisTextX).attr("y", it.c)
      .attr("dominant-baseline", "central").attr("font-size", 24).attr("letter-spacing", 1.2)
      .attr("fill", it.ink || "#fff").text(it.text);
    const w = t.node().getComputedTextLength() + (axisTextX - plotRight) + 12;
    const x0 = plotRight, x1 = plotRight + w, y0 = it.c - h / 2, y1 = it.c + h / 2, r = 4;
    g.insert("path", "text")
      .attr("d", `M${x0},${y0}H${x1 - r}Q${x1},${y0} ${x1},${y0 + r}V${y1 - r}Q${x1},${y1} ${x1 - r},${y1}H${x0}Z`)
      .attr("fill", it.fill);
  });
}
const lastOf = arr => arr[arr.length - 1][1];
badges([
  { y: yPrice(lastOf(ema200)), text: d3.format(".6f")(lastOf(ema200)), fill: C.ema200 },
  { y: yPrice(lastOf(ema100)), text: d3.format(".6f")(lastOf(ema100)), fill: "#2457f5" },
  { y: yPrice(lastOf(ema50)), text: d3.format(".6f")(lastOf(ema50)), fill: C.ema50 },
  { y: yPrice(lastPrice), text: d3.format(".6f")(lastPrice), fill: C.down },
  { y: yPrice(lastOf(sar)), text: d3.format(".6f")(lastOf(sar)), fill: C.sar }
], 32, paneMain[1]);
badges([{ y: yVol(lastVolume), text: lastVolume + "M", fill: C.vol }], 32, paneMain[1]);
badges([
  { y: yMacd(macdHist[macdHist.length - 1]), text: d3.format(".6f")(macdHist[macdHist.length - 1]), fill: C.hUpFade, ink: C.text },
  { y: yMacd(lastOf(macdLine)), text: d3.format(".6f")(lastOf(macdLine)), fill: C.macd },
  { y: yMacd(lastOf(signalLine)), text: d3.format(".6f")(lastOf(signalLine)), fill: C.signal }
], 34, paneMacd[1]);
badges([{ y: yRsi(lastOf(rsiLine)), text: d3.format(".2f")(lastOf(rsiLine)), fill: C.rsi }], 34, paneRsi[1]);

// ---------- legends ----------
const legend = svg.append("g").attr("font-size", 25);
function legendRow(y, parts) {
  const t = legend.append("text").attr("x", 17).attr("y", y).attr("dominant-baseline", "central");
  parts.forEach(([s, col, dx]) => t.append("tspan").attr("fill", col).attr("dx", dx || 0).text(s));
}
const last = candles[candles.length - 1];
const chg = last[3] - last[0];
const f6 = d3.format(".6f");
legendRow(32, [
  ["XRP/USDT (Binance), 1D", C.text],
  ["O", C.text, 15], [f6(last[0]), C.down],
  ["H", C.text, 15], [f6(last[1]), C.down],
  ["L", C.text, 15], [f6(last[2]), C.down],
  ["C", C.text, 15], [f6(last[3]), C.down],
  [`${f6(chg)} (${d3.format(".2f")(chg / last[0] * 100)}%)`, C.down, 15]
]);
legendRow(66, [["Volume", C.text], [lastVolume + "M", C.vol, 15]]);
legendRow(100.5, [["EMA (50, close, 0)", C.text], [f6(lastOf(ema50)), C.ema50, 15]]);
legendRow(134.5, [["EMA (100, close, 0)", C.text], [f6(lastOf(ema100)), "#2457f5", 15]]);
legendRow(168.5, [["EMA (200, close, 0)", C.text], [f6(lastOf(ema200)), C.ema200, 15]]);
legendRow(202.5, [["SAR (0.02, 0.02, 0.2)", C.text], [f6(lastOf(sar)), C.sar, 15]]);
legendRow(826, [["MACD (12, 26, close, 9)", C.text],
  [f6(macdHist[macdHist.length - 1]), C.hUpFade, 15],
  [f6(lastOf(macdLine)), C.macd, 15], [f6(lastOf(signalLine)), C.signal, 15]]);
legendRow(1014, [["RSI (14)", C.text], [d3.format(".2f")(lastOf(rsiLine)), C.rsi, 15]]);
</script>
</body>
</html>
